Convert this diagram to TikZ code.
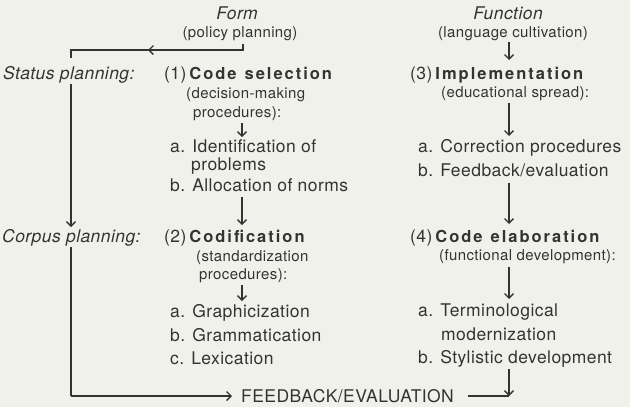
\documentclass[tikz,border=0pt]{standalone}
\usepackage{fontspec}
\setmainfont{TeX Gyre Heros}
\newfontfamily\hvreg[LetterSpace=2.5]{TeX Gyre Heros}
\newfontfamily\hvbold[LetterSpace=12]{TeX Gyre Heros}
\usetikzlibrary{arrows.meta}
\definecolor{ink}{HTML}{333333}
\definecolor{paper}{HTML}{F1F1EC}
\newcommand{\bodyf}{\hvreg\fontsize{17.5}{20}\selectfont}
\newcommand{\smallf}{\hvreg\fontsize{15}{18}\selectfont}
\newcommand{\boldf}{\hvbold\bfseries\fontsize{16.5}{20}\selectfont}
\tikzset{
  txt/.style={inner sep=0pt, text=ink, anchor=base west, font=\bodyf},
  sml/.style={inner sep=0pt, text=ink, anchor=base west, font=\smallf},
  smlc/.style={inner sep=0pt, text=ink, anchor=base, font=\smallf},
  headc/.style={inner sep=0pt, text=ink, anchor=base, font=\bodyf\itshape},
  itl/.style={inner sep=0pt, text=ink, anchor=base west, font=\bodyf\itshape},
  ln/.style={draw=ink, line width=1.3pt},
  arr/.style={ln, -{Straight Barb[length=4.5pt,width=9pt,line width=1.3pt]}}
}
\begin{document}
\begin{tikzpicture}[x=1pt,y=-1pt]
\fill[paper] (0,0) rectangle (630,407);
\useasboundingbox (0,0) rectangle (630,407);

% headings
\node[headc] (form) at (237,19) {Form};
\node[smlc] (pp) at (240,37) {(policy planning)};
\node[headc] (func) at (508,19) {Function};
\node[smlc] (lc) at (513,37) {(language cultivation)};

% left labels
\node[itl] (status) at (3,79) {Status planning:};
\node[itl] (corpus) at (2,242) {Corpus planning:};

% left column
\node[txt] (n1) at (164,79) {(1)\hspace{3pt}{\boldf Code\hspace{8pt}selection}};
\node[sml] (dm) at (186,98) {(decision-making};
\node[sml] (proc1) at (193,117) {procedures):};
\node[txt] (ia) at (170,152) {a. Identification of};
\node[txt] (ia2) at (191,170) {problems};
\node[txt] (ib) at (170,191) {b. Allocation of norms};
\node[txt] (n2) at (164,242) {(2)\hspace{3pt}{\boldf Codification}};
\node[sml] (std) at (196,261) {(standardization};
\node[sml] (proc2) at (199,279) {procedures):};
\node[txt] (ga) at (170,317) {a. Graphicization};
\node[txt] (gb) at (170,341) {b. Grammatication};
\node[txt] (gc) at (170,364) {c. Lexication};

% right column
\node[txt] (n3) at (410,79) {(3)\hspace{3pt}{\boldf Implementation}};
\node[sml] (edu) at (441,97) {(educational spread):};
\node[txt] (ca) at (418,152) {a. Correction procedures};
\node[txt] (cb) at (418,176) {b. Feedback/evaluation};
\node[txt] (n4) at (410,242) {(4)\hspace{3pt}{\boldf Code\hspace{8pt}elaboration}};
\node[sml] (fd) at (439,260) {(functional development):};
\node[txt] (ta) at (418,316) {a. Terminological};
\node[txt] (ta2) at (441,340) {modernization};
\node[txt] (tb) at (418,363) {b. Stylistic development};

\node[txt] (fb) at (241,402) {FEEDBACK/EVALUATION};

% coordinates
\coordinate (ppdrop) at (243,44);
\coordinate (ppc) at (243,50);
\coordinate (ppmid) at (148,50);
\coordinate (tl) at (71,50);
\coordinate (stTop) at (71,58);
\coordinate (stBot) at (71,84);
\coordinate (coTop) at (71,227);
\coordinate (coBot) at (71,247);
\coordinate (bl) at (71,396);
\coordinate (fbIn) at (232,396);
\coordinate (fbOut) at (468,396);
\coordinate (br) at (509,396);

% left loop
\draw[ln] (ppdrop) -- (ppc) -- (tl) -- (stTop);
\draw[arr] (ppc) -- (ppmid);
\draw[arr] (stBot) -- (coTop);
\draw[ln] (coBot) -- (bl);
\draw[arr] (bl) -- (fbIn);
\draw[ln] (fbOut) -- (br);

% column arrows
\coordinate (la1) at (242,123); \coordinate (la1e) at (242,137);
\coordinate (la2) at (242,197); \coordinate (la2e) at (242,225);
\coordinate (la3) at (242,285); \coordinate (la3e) at (242,301);
\draw[arr] (la1) -- (la1e);
\draw[arr] (la2) -- (la2e);
\draw[arr] (la3) -- (la3e);

\coordinate (ra0) at (509,42);  \coordinate (ra0e) at (509,60);
\coordinate (ra1) at (509,103); \coordinate (ra1e) at (509,136);
\coordinate (ra2) at (509,183); \coordinate (ra2e) at (509,224);
\coordinate (ra3) at (509,267); \coordinate (ra3e) at (509,299);
\coordinate (ra4) at (509,369);
\draw[arr] (ra0) -- (ra0e);
\draw[arr] (ra1) -- (ra1e);
\draw[arr] (ra2) -- (ra2e);
\draw[arr] (ra3) -- (ra3e);
\draw[arr] (ra4) -- (br);
\end{tikzpicture}
\end{document}
